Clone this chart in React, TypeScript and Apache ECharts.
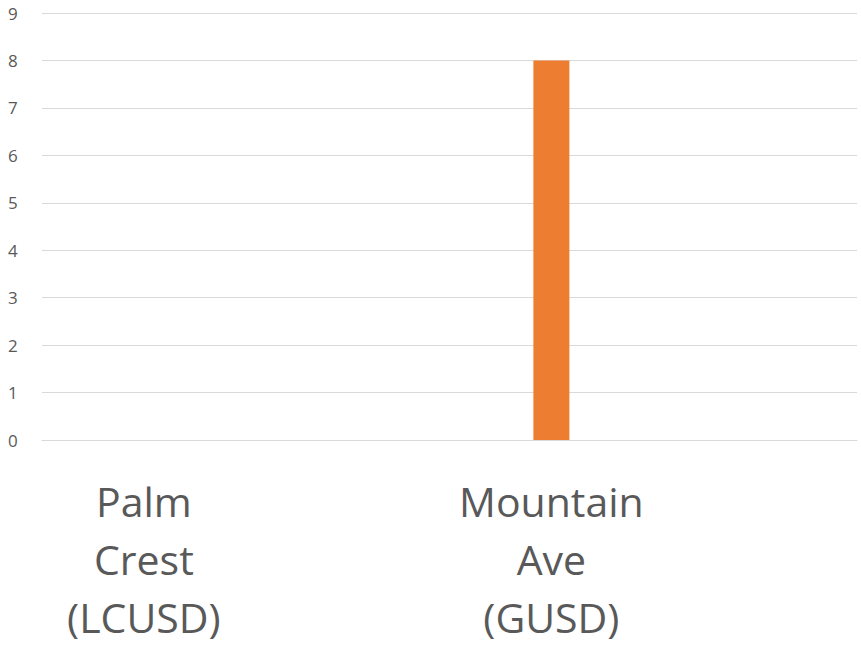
import React, { useEffect, useRef } from "react";
import * as echarts from "echarts";

const categories = ["Palm\nCrest\n(LCUSD)", "", "Mountain\nAve\n(GUSD)", ""];
const values = [0, 0, 8, 0];
const yTicks = { min: 0, max: 9, interval: 1 };

export default function App() {
  const ref = useRef<HTMLDivElement>(null);
  useEffect(() => {
    if (!ref.current) return;
    const chart = echarts.init(ref.current, undefined, { renderer: "svg" });
    chart.setOption({
      animation: false,
      grid: { left: 42, right: 4, top: 13, bottom: 206, containLabel: false, outerBoundsMode: "none" },
      xAxis: {
        type: "category",
        data: categories,
        axisLine: { lineStyle: { color: "#d9d9d9", width: 1 } },
        axisTick: { show: false },
        axisLabel: {
          interval: 0,
          margin: 32,
          color: "#595959",
          fontFamily: "Open Sans",
          fontSize: 41,
          lineHeight: 58,
        },
      },
      yAxis: {
        type: "value",
        min: yTicks.min,
        max: yTicks.max,
        interval: yTicks.interval,
        axisLine: { show: false },
        axisTick: { show: false },
        splitLine: { lineStyle: { color: "#d9d9d9", width: 1 } },
        axisLabel: {
          color: "#595959",
          fontFamily: "Open Sans",
          fontSize: 17,
          margin: 34,
          align: "left",
        },
      },
      series: [
        {
          type: "bar",
          data: values,
          barWidth: 36,
          itemStyle: { color: "#ED7D31" },
        },
      ],
    });
    return () => chart.dispose();
  }, []);
  return (
    <div
      ref={ref}
      style={{ position: "fixed", left: 0, top: 0, width: 861, height: 646, background: "#fff" }}
    />
  );
}
